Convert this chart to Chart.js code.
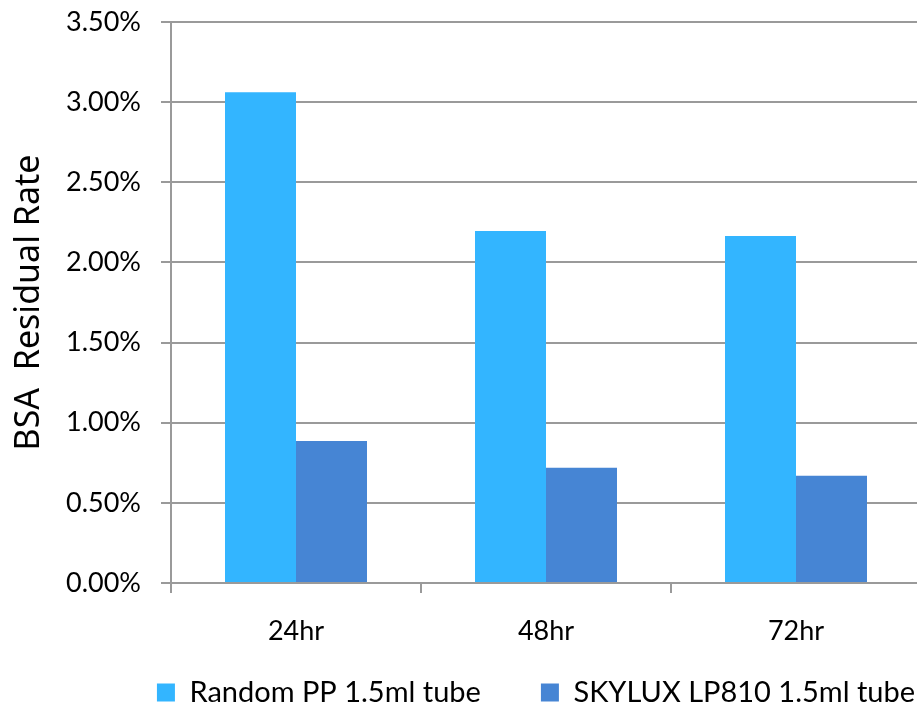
<!DOCTYPE html>
<html>
<head>
<meta charset="utf-8">
<script src="https://cdn.jsdelivr.net/npm/chart.js@4"></script>
<style>
  html, body { margin: 0; padding: 0; background: #fff; overflow: hidden; }
  #wrap { width: 917px; height: 705px; overflow: hidden; }
</style>
</head>
<body>
<div id="wrap"><canvas id="bsaChart" width="1072" height="705"></canvas></div>
<script>
// категорії по осі X
const labels = ['24hr', '48hr', '72hr'];

// залишок BSA, %
const randomPP = [3.061, 2.196, 2.165];
const skylux = [0.886, 0.719, 0.669];

const seriesNames = ['Random PP 1.5ml tube', 'SKYLUX LP810 1.5ml tube'];

const yMax = 3.5;
const yStep = 0.5;

const tickFont = { family: 'Lato', size: 27 };
const gridColor = '#9a9a9a';

const ctx = document.getElementById('bsaChart').getContext('2d');
const bsaChart = new Chart(ctx, {
  type: 'bar',
  data: {
    labels: labels,
    datasets: [{
      label: seriesNames[0],
      data: randomPP,
      backgroundColor: '#33b5ff',
      barPercentage: 1,
      categoryPercentage: 0.568
    }, {
      label: seriesNames[1],
      data: skylux,
      backgroundColor: '#4685d4',
      barPercentage: 1,
      categoryPercentage: 0.568
    }]
  },
  options: {
    responsive: false,
    animation: false,
    layout: { padding: { left: 0, right: 0, top: 0, bottom: -12 } },
    scales: {
      x: {
        afterFit: s => {
          s.height = 35;
          // підписи заходять у зону легенди — не обрізати їх
          s._computeLabelArea = () => undefined;
        },
        grid: { offset: true, drawOnChartArea: false, drawTicks: true, tickLength: 10, color: gridColor, lineWidth: 2 },
        border: { color: gridColor, width: 2 },
        ticks: { color: '#000', font: tickFont, padding: 22 }
      },
      y: {
        min: 0,
        max: yMax,
        afterFit: s => { s.width = 171; s.paddingTop = 22; },
        grid: { color: gridColor, lineWidth: 2, tickLength: 10 },
        border: { color: gridColor, width: 2 },
        ticks: {
          stepSize: yStep,
          color: '#000',
          font: tickFont,
          padding: 20,
          callback: v => v.toFixed(2) + '%'
        },
        title: {
          display: true,
          text: 'BSA  Residual Rate',
          color: '#000',
          font: { family: 'Noto Sans', size: 34 },
          padding: { top: 9, bottom: 0 }
        }
      },
      // порожня права вісь, щоб область графіка закінчувалась на 921px
      yRight: {
        position: 'right',
        display: true,
        afterFit: s => { s.width = 151; },
        grid: { display: false },
        border: { display: false },
        ticks: { display: false }
      }
    },
    plugins: {
      legend: {
        display: true,
        position: 'bottom',
        labels: {
          color: '#000',
          font: { family: 'Lato', size: 29 },
          boxWidth: 18,
          boxHeight: 18,
          padding: 60
        }
      },
      tooltip: { enabled: false }
    }
  }
});
</script>
</body>
</html>
